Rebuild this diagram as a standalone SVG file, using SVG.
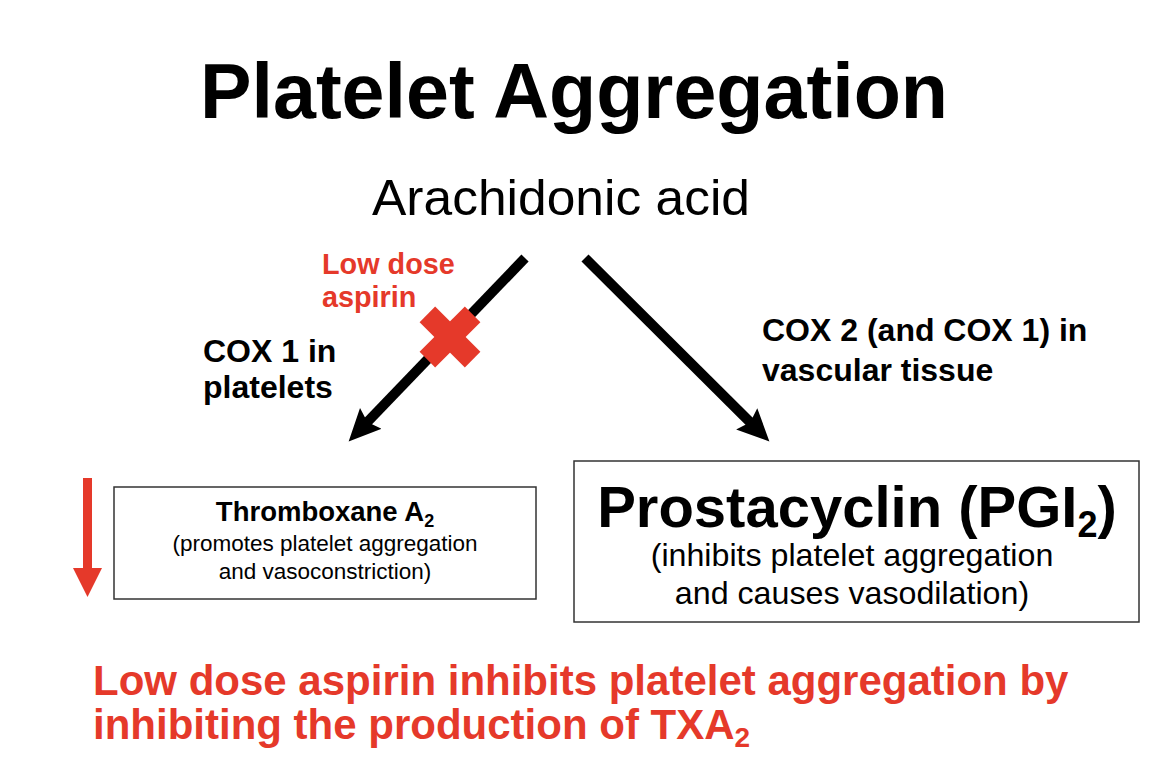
<svg xmlns="http://www.w3.org/2000/svg" width="1150" height="762" viewBox="0 0 1150 762">
  <style>
    .b { font-family: "Liberation Sans", Arial, Helvetica, sans-serif; font-weight: bold; fill: #000; }
    .r { font-family: "Liberation Sans", Arial, Helvetica, sans-serif; fill: #000; }
    .red { fill: #e5392a; }
    .box { fill: #fff; stroke: #333; stroke-width: 1.5; }
    .conn { stroke: #000; stroke-width: 10; fill: none; marker-end: url(#ah); }
  </style>
  <defs>
    <marker id="ah" markerUnits="userSpaceOnUse" markerWidth="34" markerHeight="34" refX="10" refY="15" orient="auto" viewBox="0 0 34 34">
      <path d="M0,0 L32,15 L0,30 L5,15 z" fill="#000"/>
    </marker>
  </defs>
  <rect width="1150" height="762" fill="#fff"/>

  <g id="title">
    <text class="b" x="200" y="118" font-size="77" textLength="748" lengthAdjust="spacingAndGlyphs">Platelet Aggregation</text>
  </g>

  <g id="arachidonic">
    <text class="r" x="372" y="215" font-size="50" textLength="378" lengthAdjust="spacingAndGlyphs">Arachidonic acid</text>
  </g>

  <g id="connectors">
    <line class="conn" x1="525" y1="258" x2="363.9" y2="425.6"/>
    <line class="conn" x1="585" y1="258" x2="753.8" y2="425.9"/>
  </g>

  <g id="aspirin-block">
    <text class="b red" x="322" y="274" font-size="28.8">Low dose</text>
    <text class="b red" x="322" y="307" font-size="28.8">aspirin</text>
    <g transform="translate(450,337) rotate(45)" class="red">
      <rect x="-32" y="-11" width="64" height="22"/>
      <rect x="-11" y="-32" width="22" height="64"/>
    </g>
  </g>

  <g id="cox1-label">
    <text class="b" x="203" y="362" font-size="32">COX 1 in</text>
    <text class="b" x="203" y="398" font-size="32">platelets</text>
  </g>

  <g id="cox2-label">
    <text class="b" x="762" y="341" font-size="32">COX 2 (and COX 1) in</text>
    <text class="b" x="762" y="381" font-size="32">vascular tissue</text>
  </g>

  <g id="decrease-arrow" class="red">
    <rect x="83" y="478" width="9" height="92"/>
    <polygon points="73,568 102,568 87.5,597"/>
  </g>

  <g id="thromboxane">
    <rect class="box" x="114" y="487" width="422" height="112"/>
    <text class="b" x="325" y="521" font-size="27.5" text-anchor="middle">Thromboxane A<tspan font-size="18" dy="6">2</tspan></text>
    <text class="r" x="325" y="551" font-size="22.5" text-anchor="middle">(promotes platelet aggregation</text>
    <text class="r" x="325" y="579" font-size="22.5" text-anchor="middle">and vasoconstriction)</text>
  </g>

  <g id="prostacyclin">
    <rect class="box" x="574" y="461" width="565" height="161"/>
    <text class="b" x="857" y="527" font-size="58" text-anchor="middle">Prostacyclin (PGI<tspan font-size="36" dy="10">2</tspan><tspan dy="-10">)</tspan></text>
    <text class="r" x="852" y="566" font-size="32.2" text-anchor="middle">(inhibits platelet aggregation</text>
    <text class="r" x="852" y="604" font-size="32.2" text-anchor="middle">and causes vasodilation)</text>
  </g>

  <g id="conclusion">
    <text class="b red" x="93" y="695" font-size="42">Low dose aspirin inhibits platelet aggregation by</text>
    <text class="b red" x="93" y="739" font-size="42">inhibiting the production of TXA<tspan font-size="28" dy="8">2</tspan></text>
  </g>
</svg>
